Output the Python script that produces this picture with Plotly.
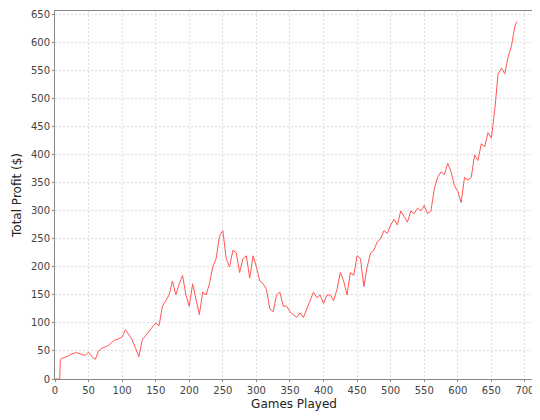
import plotly.graph_objects as go

# games played and cumulative profit
games = [0, 7, 8, 12, 18, 25, 32, 40, 45, 50, 55, 60, 65, 70, 75, 80, 85, 90, 95, 100, 105, 110, 115,
         120, 125, 130, 135, 140, 145, 150, 155, 160, 165, 170, 175, 180, 185, 190, 195, 200, 205,
         210, 215, 220, 225, 230, 235, 240, 245, 250, 255, 260, 265, 270, 275, 280, 285, 290, 295,
         300, 305, 310, 315, 320, 325, 330, 335, 340, 345, 350, 355, 360, 365, 370, 375, 380, 385,
         390, 395, 400, 405, 410, 415, 420, 425, 430, 435, 440, 445, 450, 455, 460, 465, 470, 475,
         480, 485, 490, 495, 500, 505, 510, 515, 520, 525, 530, 535, 540, 545, 550, 555, 560, 565,
         570, 575, 580, 585, 590, 595, 600, 605, 610, 615, 620, 625, 630, 635, 640, 645, 650, 655,
         660, 665, 670, 675, 680, 685, 688]
profit = [0, 0, 35, 38, 40, 45, 47, 44, 42, 48, 40, 35, 50, 55, 58, 60, 66, 70, 72, 75, 88, 80, 70,
          55, 40, 70, 78, 85, 92, 100, 95, 130, 140, 150, 175, 150, 170, 185, 150, 130, 170,
          140, 115, 155, 150, 170, 200, 215, 255, 265, 215, 200, 230, 225, 190, 215, 220, 180, 220,
          200, 175, 170, 160, 125, 120, 150, 155, 130, 130, 120, 115, 110, 118, 110, 125, 140, 155,
          145, 150, 135, 150, 150, 140, 160, 190, 175, 150, 190, 185, 220, 215, 165, 200, 225, 230,
          245, 250, 265, 260, 275, 285, 275, 300, 290, 280, 300, 295, 305, 300, 310, 295, 300, 340,
          360, 370, 365, 385, 370, 345, 335, 315, 360, 355, 360, 400, 390, 420, 415, 440, 430, 480,
          545, 555, 545, 575, 595, 630, 638]

fig = go.Figure()
fig.add_trace(go.Scatter(x=games, y=profit, mode="lines",
                         line=dict(color="#ff5555", width=1), showlegend=False))

axis = dict(showgrid=True, gridcolor="#dddddd", griddash="2px,2px", gridwidth=1,
            showline=True, linecolor="#888888", mirror=True, zeroline=False,
            ticks="outside", ticklen=2, tickcolor="#888888", automargin=False,
            tickfont=dict(family="DejaVu Sans", size=10, color="#444444"),
            title_font=dict(family="DejaVu Sans", size=12, color="#222222"))

fig.update_xaxes(axis, range=[0, 712], dtick=50, title_text="Games Played", title_standoff=4)
fig.update_yaxes(axis, range=[0, 657], dtick=50, title_text="Total Profit ($)", title_standoff=6)

fig.update_layout(width=532, height=412, paper_bgcolor="white", plot_bgcolor="white",
                  margin=dict(l=47, r=7, t=3, b=41))
fig.write_html("out.html")
